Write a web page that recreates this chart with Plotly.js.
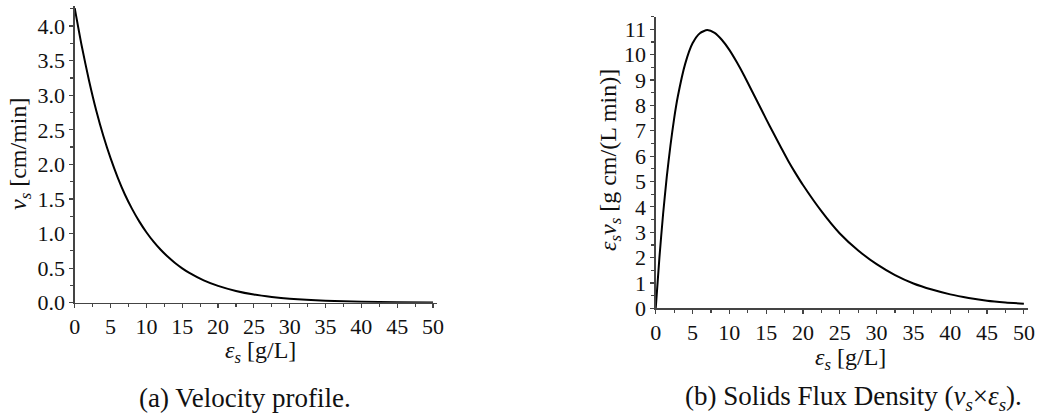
<!DOCTYPE html>
<html>
<head>
<meta charset="utf-8">
<script src="https://cdn.plot.ly/plotly-3.0.1.min.js"></script>
<style>html,body{margin:0;padding:0;background:#fff;}#chart{width:1051px;height:415px;}</style>
</head>
<body>
<div id="chart"></div>
<script>
// Left panel: settling velocity v_s [cm/min] vs solids concentration eps_s [g/L]
const epsVel = [0, 1, 2, 3, 4, 5, 6, 7, 8, 9, 10, 11, 12, 13, 14, 15, 16, 18, 20, 22.5, 25, 27.5, 30, 35, 40, 45, 50];
const velocity = [4.26, 3.70, 3.21, 2.78, 2.41, 2.09, 1.81, 1.565, 1.357, 1.176, 1.019, 0.883, 0.765, 0.663, 0.574, 0.497, 0.431, 0.323, 0.243, 0.170, 0.118, 0.083, 0.058, 0.028, 0.014, 0.007, 0.003];

// Right panel: solids flux density eps_s * v_s [g cm/(L min)]
const epsFlux = [0, 0.5, 1, 1.5, 2, 2.5, 3, 4, 5, 6, 7, 8, 9, 10, 11, 12, 13, 14, 15, 16, 17, 18, 19, 20, 22.5, 25, 27.5, 30, 32.5, 35, 37.5, 40, 42.5, 45, 47.5, 50];
const flux = [0, 1.99, 3.71, 5.18, 6.42, 7.48, 8.35, 9.64, 10.45, 10.85, 10.97, 10.86, 10.58, 10.19, 9.71, 9.18, 8.61, 8.04, 7.46, 6.90, 6.35, 5.81, 5.32, 4.86, 3.83, 2.95, 2.28, 1.74, 1.31, 0.98, 0.74, 0.55, 0.41, 0.30, 0.23, 0.18];

const xTitle = '<i>ε<sub>s</sub></i> [g/L]';
const yTitleA = '<i>v<sub>s</sub></i> [cm/min]';
const yTitleB = '<i>ε<sub>s</sub>v<sub>s</sub></i> [g cm/(L min)]';
const captionA = '(a) Velocity profile.';
const captionB = '(b) Solids Flux Density (<i>v<sub>s</sub></i>×<i>ε<sub>s</sub></i>).';

const FONT = 'Liberation Serif';
const TICK = 22, TITLE = 24, CAP = 27;
const axisCommon = {
  showgrid: false, zeroline: false, showline: true, linecolor: '#444', linewidth: 1.3,
  ticks: 'outside', ticklen: 4, tickwidth: 1.2, tickcolor: '#444',
  tickfont: {family: FONT, size: TICK, color: '#111'},
  mirror: false, fixedrange: true
};

const traces = [
  {x: epsVel, y: velocity, xaxis: 'x', yaxis: 'y', mode: 'lines',
   line: {color: '#000', width: 2, shape: 'spline', smoothing: 0.6}, hoverinfo: 'skip'},
  {x: epsFlux, y: flux, xaxis: 'x2', yaxis: 'y2', mode: 'lines',
   line: {color: '#000', width: 2, shape: 'spline', smoothing: 0.6}, hoverinfo: 'skip'}
];

function note(text, px, py, size, angle) {
  return {text: text, xref: 'paper', yref: 'paper', x: px / 1051, y: 1 - py / 415,
    xanchor: 'center', yanchor: 'middle', showarrow: false, textangle: angle || 0,
    font: {family: FONT, size: size, color: '#111'}};
}

const layout = {
  width: 1051, height: 415,
  margin: {l: 0, r: 0, t: 0, b: 0},
  paper_bgcolor: '#fff', plot_bgcolor: '#fff',
  showlegend: false,
  font: {family: FONT, size: TICK, color: '#111'},
  xaxis: Object.assign({}, axisCommon, {
    domain: [0.0711, 0.4161], anchor: 'y', range: [0, 50.6], dtick: 5, tick0: 0,
    minor: {dtick: 2.5, ticks: 'outside', ticklen: 3, tickcolor: '#444'}
  }),
  yaxis: Object.assign({}, axisCommon, {
    domain: [0.2706, 0.9855], anchor: 'x', range: [0, 4.29], dtick: 0.5, tick0: 0, tickformat: '.1f',
    minor: {dtick: 0.25, ticks: 'outside', ticklen: 3, tickcolor: '#444'}
  }),
  xaxis2: Object.assign({}, axisCommon, {
    domain: [0.6239, 0.9784], anchor: 'y2', range: [0, 50.6], dtick: 5, tick0: 0,
    minor: {dtick: 2.5, ticks: 'outside', ticklen: 3, tickcolor: '#444'}
  }),
  yaxis2: Object.assign({}, axisCommon, {
    domain: [0.2571, 0.9598], anchor: 'x2', range: [0, 11.5], dtick: 1, tick0: 0,
    minor: {dtick: 0.5, ticks: 'outside', ticklen: 3, tickcolor: '#444'}
  }),
  annotations: [
    note(xTitle, 260, 352, TITLE),
    note(xTitle, 850, 359, TITLE),
    note(yTitleA, 20, 154, TITLE, -90),
    note(yTitleB, 610, 160, TITLE, -90),
    note(captionA, 245, 398, CAP),
    note(captionB, 853, 398, CAP)
  ]
};

Plotly.newPlot('chart', traces, layout, {displayModeBar: false, staticPlot: true});
</script>
</body>
</html>
